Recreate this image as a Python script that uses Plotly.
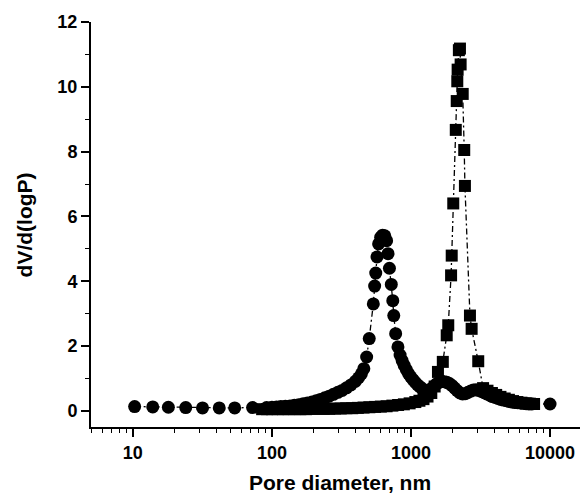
import plotly.graph_objects as go

# Series with circles
circ_x = [10.3, 13.9, 18, 24, 31.7, 41.8, 54, 72.6, 91.6, 100, 108, 116, 125, 135, 145, 156,
          168, 180, 194, 208, 223, 240, 258, 277, 298, 320, 344, 370, 398, 420, 440, 458,
          480, 501, 536, 548, 558, 570, 585, 605, 625, 648, 668, 684, 700, 722, 740, 752,
          776, 806, 835, 864, 894, 926, 960, 996, 1034, 1074, 1116, 1160, 1206, 1254, 1304,
          1356, 1410, 1466, 1525, 1590, 1660, 1735, 1810, 1890, 1975, 2060, 2150, 2250,
          2350, 2460, 2570, 2690, 2810, 2940, 3070, 3210, 3360, 3510, 3680, 3850, 4030,
          4220, 4420, 4630, 4850, 5080, 5320, 5570, 5840, 6120, 6420, 6730, 7050, 7400, 10000]
circ_y = [0.13, 0.12, 0.11, 0.10, 0.09, 0.09, 0.09, 0.10, 0.10, 0.11, 0.12, 0.13, 0.14, 0.15, 0.17, 0.19,
          0.22, 0.24, 0.27, 0.31, 0.35, 0.40, 0.45, 0.51, 0.57, 0.63, 0.71, 0.80, 0.91, 1.02, 1.14, 1.30,
          1.66, 2.23, 3.30, 3.85, 4.25, 4.75, 5.15, 5.35, 5.42, 5.40, 5.25, 4.85, 4.40, 3.90, 3.40, 2.94,
          2.38, 1.97, 1.72, 1.55, 1.40, 1.27, 1.15, 1.05, 0.96, 0.88, 0.80, 0.74, 0.68, 0.64, 0.62,
          0.64, 0.69, 0.76, 0.83, 0.88, 0.91, 0.90, 0.88, 0.84, 0.78, 0.70, 0.62, 0.55,
          0.52, 0.53, 0.57, 0.61, 0.64, 0.65, 0.63, 0.60, 0.56, 0.52, 0.48, 0.44, 0.41,
          0.38, 0.35, 0.33, 0.31, 0.29, 0.27, 0.26, 0.25, 0.24, 0.23, 0.22, 0.21, 0.21, 0.21]

# Series with squares
sq_x = [85, 92, 100, 110, 120, 132, 145, 160, 176, 194, 213, 235, 258, 284, 312, 343, 378, 415,
        456, 502, 552, 607, 668, 735, 808, 889, 978, 1075, 1150, 1230, 1315, 1400, 1480, 1563,
        1694, 1807, 1854, 1943, 1963, 2014, 2100, 2133, 2153, 2165, 2210, 2250, 2275, 2355,
        2415, 2443, 2655, 2730, 3046, 3300, 3550, 3820, 4100, 4400, 4720, 5060, 5420, 5810,
        6230, 6680, 7160, 7680]
sq_y = [0.05, 0.05, 0.05, 0.05, 0.05, 0.05, 0.05, 0.05, 0.05, 0.06, 0.06, 0.06, 0.06, 0.07, 0.07, 0.08, 0.08, 0.09,
        0.10, 0.11, 0.12, 0.13, 0.14, 0.16, 0.18, 0.20, 0.23, 0.27, 0.31, 0.36, 0.44, 0.55, 0.75, 1.20,
        1.51, 2.33, 2.64, 4.18, 4.79, 6.40, 8.67, 9.56, 10.17, 10.53, 11.13, 11.18, 10.69, 9.78,
        8.05, 6.94, 2.94, 2.53, 1.53, 0.70, 0.62, 0.55, 0.49, 0.43, 0.38, 0.34, 0.30, 0.27,
        0.25, 0.23, 0.22, 0.21]

y_ticks = [0, 2, 4, 6, 8, 10, 12]
x_ticks = [10, 100, 1000, 10000]
x_ticklabels = ["10", "100", "1000", "10000"]

line_style = dict(color="black", width=1.3, dash="6px,3px,2px,3px")

fig = go.Figure()
fig.add_trace(go.Scatter(x=circ_x, y=circ_y, mode="lines+markers", line=line_style,
                         marker=dict(symbol="circle", size=13, color="black"), showlegend=False))
fig.add_trace(go.Scatter(x=sq_x, y=sq_y, mode="lines+markers", line=line_style,
                         marker=dict(symbol="square", size=12, color="black"), showlegend=False))

fnt = dict(family="Liberation Sans, Arial, sans-serif", color="black")

fig.update_layout(
    width=588, height=494,
    margin=dict(l=83, r=8, t=14, b=75, autoexpand=False),
    paper_bgcolor="white", plot_bgcolor="white",
    xaxis=dict(
        type="log", range=[0.699, 4.273], automargin=False,
        tickvals=x_ticks, ticktext=x_ticklabels,
        ticks="outside", ticklen=8, tickwidth=1.5, tickcolor="black",
        showline=True, linecolor="black", linewidth=2, showgrid=False, zeroline=False,
        tickfont=dict(size=18, weight="bold", **fnt),
        minor=dict(ticks="outside", ticklen=4, tickwidth=1.2, tickcolor="black",
                   dtick="D1", showgrid=False),
    ),
    yaxis=dict(
        range=[-0.5, 12], tickvals=y_ticks, automargin=False,
        ticks="outside", ticklen=8, tickwidth=1.5, tickcolor="black",
        showline=True, linecolor="black", linewidth=2, showgrid=False, zeroline=False,
        tickfont=dict(size=18, weight="bold", **fnt),
        minor=dict(ticks="outside", ticklen=4, tickwidth=1.2, tickcolor="black",
                   dtick=1, showgrid=False),
    ),
    annotations=[
        dict(text="Pore diameter, nm", xref="paper", yref="paper", x=0.5, y=-0.136,
             xanchor="center", yanchor="middle", showarrow=False,
             font=dict(size=21, weight="bold", **fnt)),
        dict(text="dV/d(logP)", xref="paper", yref="paper", x=-0.133, y=0.5,
             xanchor="center", yanchor="middle", textangle=-90, showarrow=False,
             font=dict(size=21, weight="bold", **fnt)),
    ],
)

fig.write_html("out.html")
